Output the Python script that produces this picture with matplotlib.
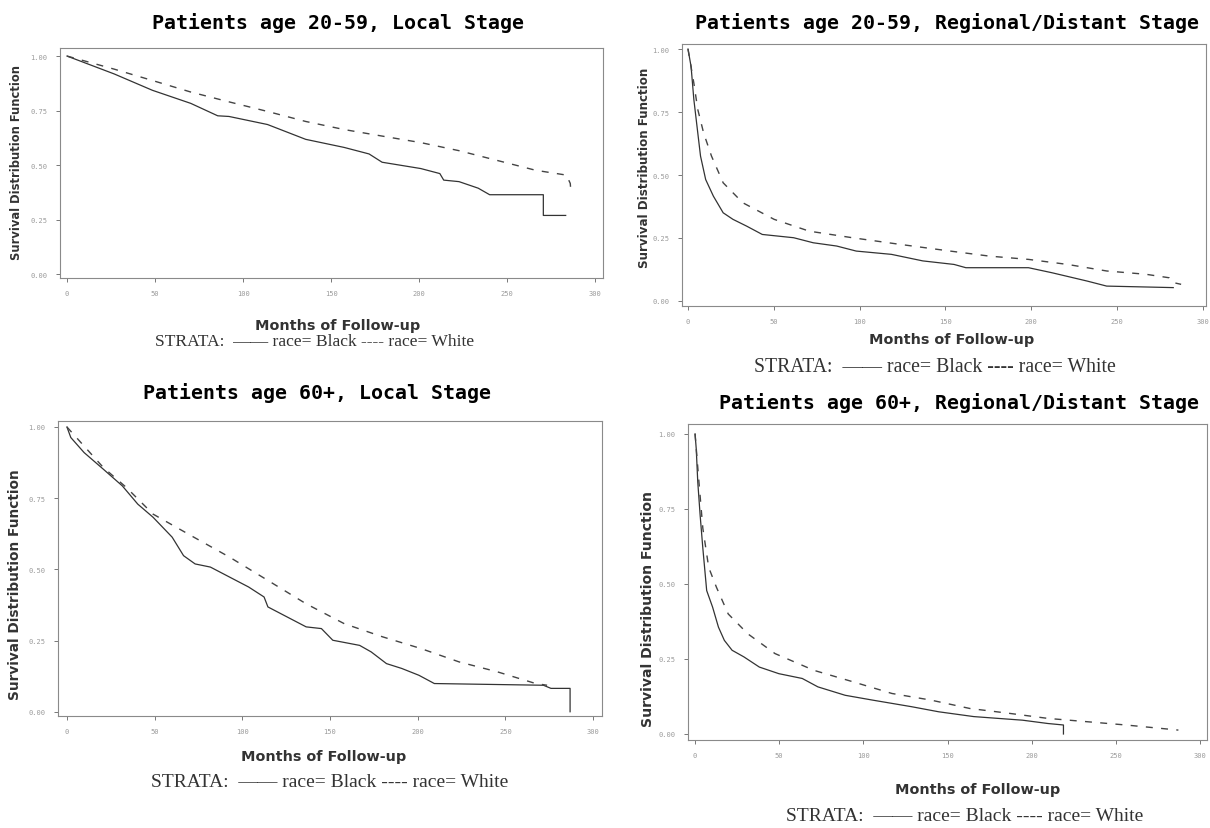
import matplotlib
matplotlib.use("Agg")
import matplotlib.pyplot as plt

# Kaplan-Meier curves (months, survival)
# Patients age 20-59, Local Stage
p1_black_m = [0, 26.8, 48.5, 70.3, 85.6, 92, 113.9, 135.6, 157.4, 171.6, 179, 201, 211.8, 214,
              222.7, 233.6, 240.1, 270.6, 270.6, 283.3]
p1_black_s = [1.0, .918, .843, .783, .726, .723, .686, .618, .581, .551, .513, .484, .461, .431,
              .424, .394, .364, .364, .269, .269]
p1_white_m = [0, 26.8, 48.5, 70.3, 92, 113.9, 135.6, 157.4, 179, 201, 222.7, 244.5, 266.3, 283.7,
              285.9, 286.3]
p1_white_s = [1.0, .94, .888, .835, .79, .746, .70, .663, .633, .603, .566, .521, .476, .454,
              .416, .374]

# Patients age 20-59, Regional/Distant Stage
p2_black_m = [0, 1.8, 3.4, 5.7, 7.3, 10.3, 14.8, 20.5, 26.2, 34.2, 43.3, 61.6, 73, 86.7, 98.1,
              118.6, 136.9, 155.1, 162, 198.5, 212.2, 232.7, 244.1, 282.9]
p2_black_s = [1.0, .93, .80, .667, .575, .482, .416, .35, .324, .297, .264, .251, .231, .218, .198,
              .185, .159, .145, .132, .132, .112, .079, .059, .053]
p2_white_m = [0, 3.4, 5.7, 9.1, 13.7, 20.5, 31.9, 50.2, 70.7, 95.8, 123.2, 152.9, 175.7, 198.5,
              221.3, 244.1, 266.9, 280.6, 282.9, 287.5]
p2_white_s = [1.0, .865, .76, .667, .575, .469, .39, .324, .277, .251, .225, .198, .178, .165,
              .145, .119, .106, .092, .073, .066]

# Patients age 60+, Local Stage
p3_black_m = [0, 2.2, 9.8, 20.7, 31.6, 40.4, 49.1, 60, 66.5, 73.1, 81.8, 92.7, 103.6, 112.4, 114.6,
              125.5, 136.4, 145.1, 151.6, 166.9, 173.5, 182.2, 190.9, 200.7, 209.5, 271.7, 276,
              286.9, 286.9]
p3_black_s = [1.0, .963, .91, .852, .793, .729, .683, .613, .548, .519, .508, .473, .438, .403, .368,
              .333, .298, .292, .251, .233, .21, .169, .152, .128, .099, .093, .082, .082, 0.0]
p3_white_m = [0, 20.7, 33.8, 49.1, 70.9, 92.7, 114.6, 136.4, 158.2, 180, 201.8, 223.6, 245.5,
              267.3, 273.8]
p3_white_s = [1.0, .858, .788, .694, .618, .543, .461, .379, .309, .263, .222, .175, .14, .099, .093]

# Patients age 60+, Regional/Distant Stage
p4_black_m = [0, 0.7, 1.6, 3, 4.6, 6.9, 10.4, 13.9, 17.4, 22, 29, 38.2, 49.8, 63.7, 73, 89.2, 105.4,
              128.6, 144.8, 165.6, 194.6, 209.6, 218.9, 218.9]
p4_black_s = [1.0, .95, .84, .73, .62, .478, .423, .356, .312, .279, .257, .223, .201, .185, .157,
              .129, .113, .091, .074, .058, .046, .035, .03, 0.0]
p4_white_m = [0, 2.3, 4.6, 8.1, 12.7, 19.7, 31.3, 47.5, 70.7, 93.8, 117, 140.1, 163.3, 186.5,
              209.6, 232.8, 256, 287.2]
p4_white_s = [1.0, .84, .686, .555, .489, .40, .334, .268, .212, .174, .135, .113, .085, .069,
              .052, .041, .03, .013]

titles = ["Patients age 20-59, Local Stage",
          "Patients age 20-59, Regional/Distant Stage",
          "Patients age 60+, Local Stage",
          "Patients age 60+, Regional/Distant Stage"]
x_ticks = [0, 50, 100, 150, 200, 250, 300]
y_ticks = [0.0, 0.25, 0.5, 0.75, 1.0]
strata_text = "STRATA:  \u2014\u2014 race= Black ---- race= White"

W, H = 1210, 829
fig = plt.figure(figsize=(W / 100, H / 100), dpi=100)
fig.patch.set_facecolor("white")

# layout of each scanned panel in pixels
panels = [
    dict(box=(60, 49, 603, 279), xlim=(-4.0, 304.5), ylim=(-0.018, 1.037),
         title=(338, 23), ylab=(17, 162, 8.3), xlab=(338, 326), strata=(315, 342, 12.6),
         data=(p1_black_m, p1_black_s, p1_white_m, p1_white_s)),
    dict(box=(682, 45, 1206, 307), xlim=(-3.5, 302), ylim=(-0.02, 1.02),
         title=(947, 23), ylab=(645, 168, 8.6), xlab=(952, 340), strata=(935, 368, 14.2),
         data=(p2_black_m, p2_black_s, p2_white_m, p2_white_s)),
    dict(box=(58, 422, 602, 717), xlim=(-5.1, 305.1), ylim=(-0.015, 1.021),
         title=(317, 393), ylab=(15, 585, 9.8), xlab=(324, 757), strata=(330, 783, 14),
         data=(p3_black_m, p3_black_s, p3_white_m, p3_white_s)),
    dict(box=(688, 425, 1207, 741), xlim=(-4.2, 304.2), ylim=(-0.02, 1.033),
         title=(959, 403), ylab=(648, 609, 10.1), xlab=(978, 790), strata=(965, 817, 14),
         data=(p4_black_m, p4_black_s, p4_white_m, p4_white_s)),
]

for p, title in zip(panels, titles):
    l, t, r, b = p["box"]
    ax = fig.add_axes([l / W, 1 - b / H, (r - l) / W, (b - t) / H])
    bm, bs, wm, ws = p["data"]
    ax.plot(bm, bs, color="#333333", lw=0.9)
    ax.plot(wm, ws, color="#444444", lw=1.0, linestyle=(0, (5, 6)))
    ax.set_xlim(*p["xlim"])
    ax.set_ylim(*p["ylim"])
    ax.set_xticks(x_ticks)
    ax.set_yticks(y_ticks)
    ax.set_xticklabels([str(v) for v in x_ticks], family="DejaVu Sans Mono")
    ax.set_yticklabels(["%.2f" % v for v in y_ticks], family="DejaVu Sans Mono")
    ax.tick_params(labelsize=5, labelcolor="#9a9a9a", length=3, width=0.7, color="#777777",
                   pad=6)
    for s in ax.spines.values():
        s.set_color("#8a8a8a")
        s.set_linewidth(0.8)

    fig.text(p["title"][0] / W, 1 - p["title"][1] / H, title, ha="center", va="center",
             family="DejaVu Sans Mono", weight="bold", fontsize=14.3)
    yx, yy, ys = p["ylab"]
    fig.text(yx / W, 1 - yy / H, "Survival Distribution Function", rotation=90,
             ha="center", va="center", family="DejaVu Sans", weight="bold", fontsize=ys,
             color="#333333")
    fig.text(p["xlab"][0] / W, 1 - p["xlab"][1] / H, "Months of Follow-up", ha="center",
             va="center", family="DejaVu Sans", weight="bold", fontsize=10.4, color="#333333")
    sx, sy, ss = p["strata"]
    fig.text(sx / W, 1 - sy / H, strata_text, ha="center", va="center",
             family="Liberation Serif", fontsize=ss, color="#333333")

fig.savefig("out.png", dpi=100)
